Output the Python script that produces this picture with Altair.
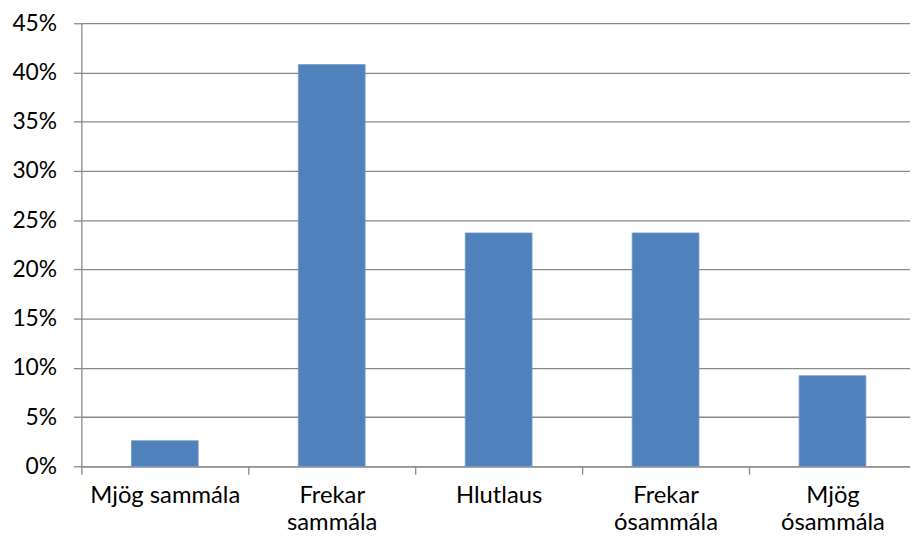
import altair as alt
import pandas as pd

categories = ["Mjög sammála", "Frekar sammála", "Hlutlaus", "Frekar ósammála", "Mjög ósammála"]
values = [2.6, 40.8, 23.7, 23.7, 9.2]
tick_labels = [["Mjög sammála"], ["Frekar", "sammála"], ["Hlutlaus"], ["Frekar", "ósammála"], ["Mjög", "ósammála"]]
y_ticks = [0, 5, 10, 15, 20, 25, 30, 35, 40, 45]

df = pd.DataFrame({"cat": categories, "val": values})

# label expression: category -> (possibly multi-line) label
expr = "''"
for c, lines in reversed(list(zip(categories, tick_labels))):
    arr = "[" + ",".join("'" + l + "'" for l in lines) + "]"
    expr = f"datum.value == '{c}' ? {arr} : ({expr})"

FONT = "Lato"
GRAY = "#8a8a8a"

chart = alt.Chart(df).mark_bar(
    color="#4F81BD", stroke="#7398c9", strokeWidth=0.8,
    width=alt.RelativeBandSize(0.4)
).encode(
    x=alt.X("cat:N", sort=categories,
            scale=alt.Scale(paddingInner=0, paddingOuter=0, range=[0, 842]),
            axis=alt.Axis(title=None, labelAngle=0, labelExpr=expr,
                          labelFont=FONT, labelFontSize=24, labelColor="#000000",
                          labelLineHeight=27, labelPadding=10, labelLimit=400,
                          labelOffset=84.2,
                          ticks=True, tickSize=8, tickColor=GRAY, tickWidth=1.3,
                          tickOffset=-84.2, tickRound=False, tickBand="center",
                          domainColor=GRAY, domainWidth=1.3, grid=False)),
    y=alt.Y("val:Q",
            scale=alt.Scale(domain=[0, 45], nice=False, zero=True),
            axis=alt.Axis(title=None, values=y_ticks,
                          labelExpr="datum.value + '%'",
                          labelFont=FONT, labelFontSize=23, labelColor="#000000",
                          labelPadding=17,
                          tickSize=8, tickColor=GRAY, tickWidth=1.3,
                          domainColor=GRAY, domainWidth=1.3,
                          grid=True, gridColor=GRAY, gridWidth=1.3)),
).properties(
    width=836, height=447,
    autosize=alt.AutoSizeParams(type="none"),
    padding={"left": 74, "top": 13, "right": 0, "bottom": 73},
).configure_view(stroke=None)

chart.save("out.html", embed_options={"renderer": "svg", "actions": False})
